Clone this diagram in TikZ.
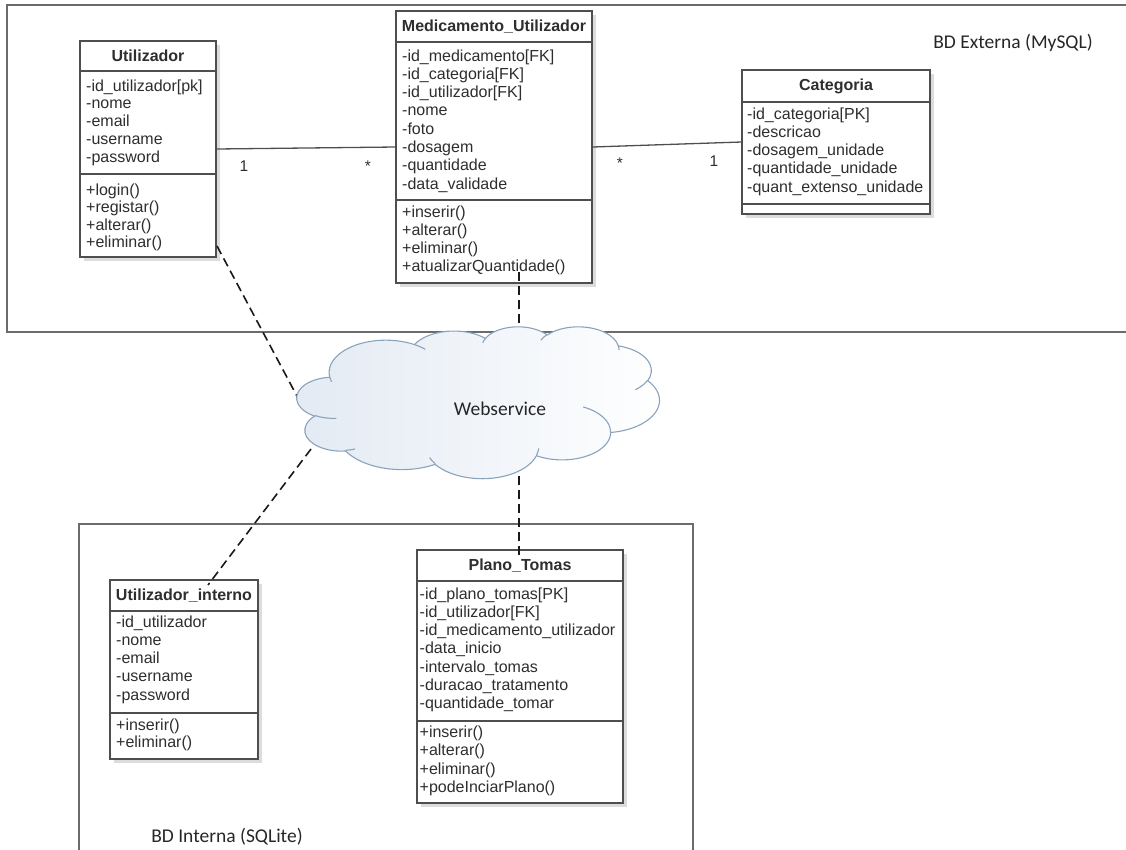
\documentclass[tikz,border=0pt]{standalone}
\usepackage{fontspec}
\setmainfont{Liberation Sans}
\newfontfamily\notefont{Carlito}
\usetikzlibrary{fit}

\definecolor{classdraw}{HTML}{4E4E4E}
\definecolor{classtext}{HTML}{2E2E2E}
\definecolor{framegray}{HTML}{6B6B6B}
\definecolor{shadowgray}{HTML}{DCDCDC}
\definecolor{cloudline}{HTML}{8AA3BD}
\definecolor{cloudfill}{HTML}{E3EAF3}

% elliptical arc given by radii and visual start/sweep angles (degrees)
\newcommand\ooarc[4]{arc[x radius=#1pt, y radius=#2pt,
  start angle={atan2(#1*sin(#3),#2*cos(#3))},
  delta angle={Mod(atan2(#1*sin(#3+#4),#2*cos(#3+#4))-atan2(#1*sin(#3),#2*cos(#3)),360)}]}

% class box: name, left, top, right, bottom, first separator, second separator, title
\newcommand\umlclass[8]{%
  \fill[classshadow] (#2+4,#3+4) rectangle (#4+4,#5+4);
  \coordinate (#1-nw) at (#2,#3);
  \coordinate (#1-se) at (#4,#5);
  \node[classframe, fit=(#1-nw)(#1-se)] (#1) {};
  \draw[classline] (#2,#6) -- (#4,#6);
  \draw[classline] (#2,#7) -- (#4,#7);
  \node[classtitle] (#1-title) at ({(#2+#4)/2},{(#3+#6)/2}) {#8};
}
% rows of a compartment: prefix, x, first baseline, spacing, entries
\newcommand\umlrows[5]{%
  \foreach \txt [count=\k] in {#5} {
    \node[classrow] (#1-\k) at (#2,{#3+(\k-1)*#4}) {\txt};
  }
}

\tikzset{
  classframe/.style={draw=classdraw, line width=1.3pt, fill=white, inner sep=0pt},
  classline/.style={draw=classdraw, line width=1.3pt},
  classshadow/.style={fill=shadowgray},
  classtitle/.style={font=\fontsize{16pt}{18pt}\selectfont\bfseries, text=classtext, inner sep=0pt},
  classrow/.style={font=\fontsize{16pt}{18pt}\selectfont, text=classtext, inner sep=0pt, anchor=base west},
  mult/.style={font=\fontsize{15.5pt}{17pt}\selectfont, text=classtext, inner sep=0pt, anchor=base},
  assoc/.style={draw=classdraw, line width=1.3pt},
  region/.style={draw=framegray, line width=1.4pt},
  regionlabel/.style={font=\notefont\fontsize{19.5pt}{22pt}\selectfont, text=black!85, inner sep=0pt},
  linkdash/.style={draw=black!90, line width=1.6pt, dash pattern=on 9pt off 5pt},
  cloudbody/.style={draw=cloudline, line width=1.1pt, left color=cloudfill, right color=white},
  cloudstroke/.style={draw=cloudline, line width=1.1pt},
}

\begin{document}
\begin{tikzpicture}[x=1pt, y=-1pt]
\useasboundingbox (0,0) rectangle (1126,849);

% database regions
\draw[region] (1127,5) -- (7,5) -- (7,332) -- (1127,332);
\draw[region] (79,850) -- (79,524) -- (693,524) -- (693,850);
\node[regionlabel] (extlabel) at (1013,43) {BD Externa (MySQL)};
\node[regionlabel] (intlabel) at (227,837) {BD Interna (SQLite)};

% external database classes
\umlclass{util}{80}{41}{216}{257}{71}{174}{Utilizador}
\umlrows{util-a}{86}{91}{17.8}{-id\_utilizador[pk],-nome,-email,-username,-password}
\umlrows{util-m}{86}{195.5}{17.3}{+login(),+registar(),+alterar(),+eliminar()}

\umlclass{med}{396}{11}{592}{283}{42}{200}{Medicamento\_Utilizador}
\umlrows{med-a}{402}{61}{18.3}{-id\_medicamento[FK],-id\_categoria[FK],-id\_utilizador[FK],-nome,-foto,-dosagem,-quantidade,-data\_validade}
\umlrows{med-m}{402}{217}{18.3}{+inserir(),+alterar(),+eliminar(),+atualizarQuantidade()}

\umlclass{cat}{742}{70}{930}{214}{102}{204}{Categoria}
\umlrows{cat-a}{747}{119}{18.3}{-id\_categoria[PK],-descricao,-dosagem\_unidade,-quantidade\_unidade,-quant\_extenso\_unidade}

% internal database classes
\umlclass{uint}{110}{580}{258}{759}{611}{713}{Utilizador\_interno}
\umlrows{uint-a}{116}{627}{18.3}{-id\_utilizador,-nome,-email,-username,-password}
\umlrows{uint-m}{116}{730}{17.5}{+inserir(),+eliminar()}

\umlclass{plan}{417}{550}{623}{803}{581}{721}{Plano\_Tomas}
\umlrows{plan-a}{419.5}{599}{18.3}{-id\_plano\_tomas[PK],-id\_utilizador[FK],-id\_medicamento\_utilizador,-data\_inicio,-intervalo\_tomas,-duracao\_tratamento,-quantidade\_tomar}
\umlrows{plan-m}{419.5}{737.5}{18.3}{+inserir(),+alterar(),+eliminar(),+podeInciarPlano()}

% associations
\draw[assoc] (util.east) -- (med.west);
\draw[assoc] (med.east) -- (cat.west);
\node[mult] (m1) at (244,171) {1};
\node[mult] (m2) at (368,171) {*};
\node[mult] (m3) at (620,168) {*};
\node[mult] (m4) at (714,166.5) {1};

% links through the web service
\coordinate (u-ws) at (217,246);
\coordinate (ws-u) at (298,398);
\coordinate (ws-ui) at (311,449);
\coordinate (ui-ws) at (208,585);
\coordinate (m-ws) at (519,272);
\coordinate (ws-m) at (519,338);
\coordinate (ws-p) at (519,476);
\coordinate (p-ws) at (519,558);
\draw[linkdash] (u-ws) -- (ws-u);
\draw[linkdash] (ws-ui) -- (ui-ws);
\draw[linkdash] (m-ws) -- (ws-m);
\draw[linkdash] (ws-p) -- (p-ws);

% web service cloud
\begin{scope}[shift={(296.9,326.3)}, xscale=0.839, yscale=-0.3515]
  \path[cloudbody] (39pt,143.7pt)
    \ooarc{67.53}{91.90}{-190.4875}{123.7805}
    \ooarc{53.33}{72.67}{-144.1024}{89.9452}
    \ooarc{43.65}{59.45}{-145.8079}{99.7230}
    \ooarc{48.57}{65.95}{-130.9861}{117.2417}
    \ooarc{53.33}{72.73}{-78.7089}{109.0269}
    \ooarc{67.75}{92.20}{-46.2673}{130.2690}
    \ooarc{57.85}{78.67}{0.6250}{114.0333}
    \ooarc{67.52}{92.15}{22.4516}{115.1726}
    \ooarc{77.20}{105.43}{66.2426}{75.7110}
    \ooarc{43.60}{59.18}{-274.9421}{146.7356}
    \ooarc{43.45}{59.45}{-246.8285}{152.5189}
    -- cycle;
  \path[cloudstroke] (46.93pt,261.77pt) \ooarc{43.45}{59.45}{86.7420}{26.4295}
    (69.28pt,348.99pt) \ooarc{43.60}{59.18}{73.6105}{11.4475}
    (164.78pt,390.90pt) \ooarc{67.52}{92.15}{137.6242}{14.0811}
    (288.27pt,347.51pt) \ooarc{67.52}{92.15}{6.4533}{15.9984}
    (341.29pt,229.54pt) \ooarc{57.85}{78.67}{-70.2924}{70.9174}
    (417.98pt,153.54pt) \ooarc{53.33}{72.73}{30.3180}{27.7515}
    (383.24pt,54.26pt) \ooarc{48.57}{65.95}{-13.7443}{14.8589}
    (290.78pt,39.52pt) \ooarc{48.57}{65.95}{-149.1815}{18.1954}
    (221.41pt,47.20pt) \ooarc{43.65}{59.45}{-163.4943}{17.6864}
    (140.00pt,51.92pt) \ooarc{67.53}{91.90}{-66.7070}{12.3194}
    (41.27pt,157.89pt) \ooarc{67.53}{91.90}{157.6544}{11.8582};
\end{scope}
\node[regionlabel] (ws) at (500,409) {Webservice};

\end{tikzpicture}
\end{document}
